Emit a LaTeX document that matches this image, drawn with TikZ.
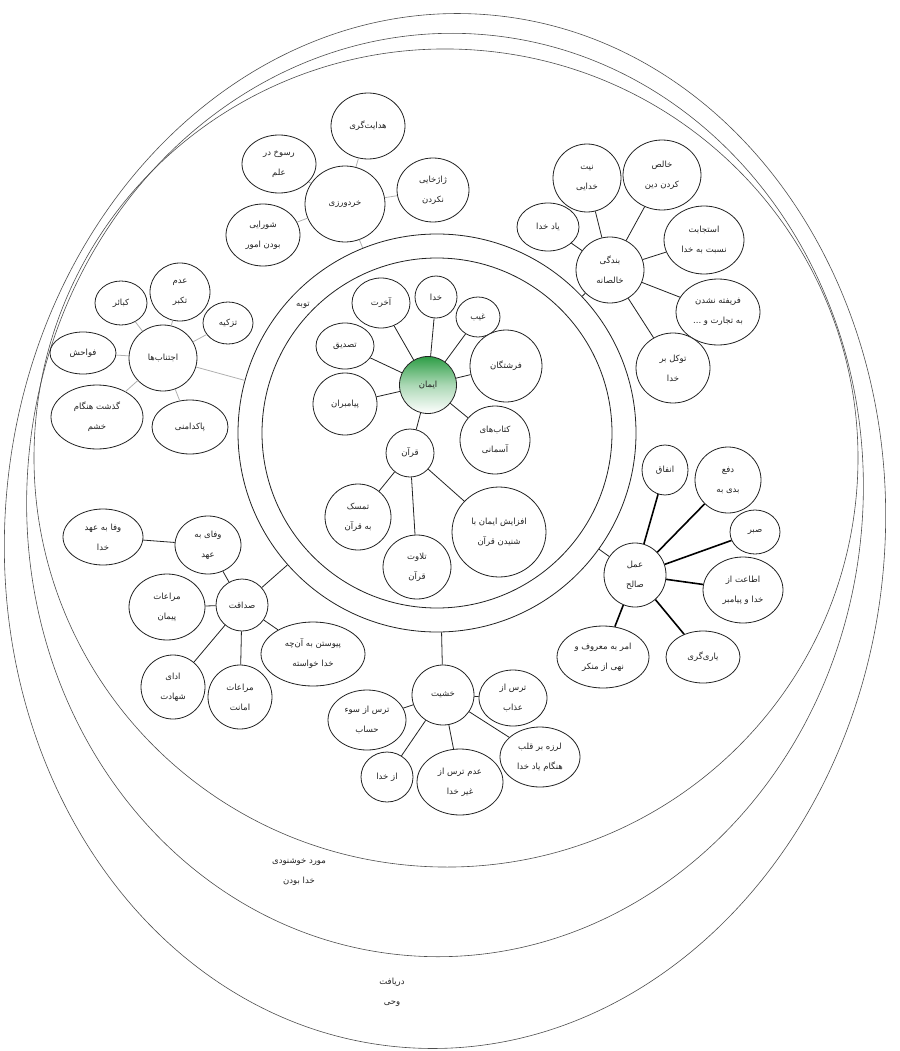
\documentclass[tikz,border=0pt]{standalone}
\usepackage{fontspec}
\newfontfamily\arabicfont[Script=Arabic]{DejaVu Sans}
\TeXXeTstate=1
\usepackage{xcolor}
\definecolor{imanGreen}{HTML}{2E9E46}
\definecolor{lineDark}{HTML}{222222}
\definecolor{softLink}{HTML}{B0B0B0}
\definecolor{outerLine}{HTML}{4D4D4D}
\usepackage{tikz}
\usetikzlibrary{
    shapes.geometric,
    positioning
}
\newcommand{\fatext}[1]{\beginR #1\endR}
\tikzset{
    % Base style for all bubbles
    bubble/.style 2 args={
        ellipse,
        draw=lineDark,
        line width=0.8pt,
        fill=white,
        inner sep=0pt,
        minimum width=#1pt,
        minimum height=#2pt,
        font=\arabicfont\fontsize{8.5}{20}\selectfont,
        align=center,
        text=lineDark,
    },
    % Center node - green fading to white
    core/.style={
        bubble={57}{57},
        top color=imanGreen,
        bottom color=white,
        middle color=imanGreen!40,
    },
    % Double ring round the center
    ring/.style={
        circle,
        draw=lineDark,
        line width=0.8pt,
        inner sep=0pt,
    },
    % Free labels in the bands
    band label/.style={
        font=\arabicfont\fontsize{8.5}{20}\selectfont,
        align=center,
        text=lineDark,
    },
    % Outer egg lines
    outer line/.style={
        draw=outerLine,
        line width=0.6pt,
    },
    % Connectors
    link/.style={
        draw=lineDark,
        line width=0.8pt,
    },
    link soft/.style={
        draw=softLink,
        line width=0.8pt,
    },
    link bold/.style={
        draw=black,
        line width=1.6pt,
    },
}

\begin{document}
\begin{tikzpicture}[x=1pt, y=-1pt]
    \useasboundingbox (0,0) rectangle (899,1051);
    \draw [outer line, rotate around={-5:(445,531)}] (445,531) ellipse [x radius=440pt, y radius=518pt];
    \draw [outer line, rotate around={-5:(445,495)}] (445,495) ellipse [x radius=418pt, y radius=462pt];
    \draw [outer line, rotate around={-5:(446,458)}] (446,458) ellipse [x radius=412pt, y radius=409pt];

    \node (ringout) [ring, minimum size=398pt] at (437,433) {};
    \node (ringin) [ring, minimum size=350pt] at (437,433) {};
    \node (tobe) [band label] at (303,305) {\fatext{توبه}};
    \node (khoshnudi) [band label] at (299,872) {\fatext{مورد خوشنودی}\\\fatext{خدا بودن}};
    \node (vahy) [band label] at (392,992) {\fatext{دریافت}\\\fatext{وحی}};

    \node (iman) [core] at (428,385) {\fatext{ایمان}};
    \node (khoda) [bubble={42}{42}] at (436,297) {\fatext{خدا}};
    \node (akherat) [bubble={58}{50}] at (381,303) {\fatext{آخرت}};
    \node (gheyb) [bubble={44}{40}] at (478,317) {\fatext{غیب}};
    \node (tasdiq) [bubble={58}{46}] at (345,346) {\fatext{تصدیق}};
    \node (fereshtegan) [bubble={72}{72}] at (506,366) {\fatext{فرشتگان}};
    \node (payambaran) [bubble={64}{62}] at (345,404) {\fatext{پیامبران}};
    \node (ketab) [bubble={70}{68}] at (495,440) {\fatext{کتاب‌های}\\\fatext{آسمانی}};
    \node (quran) [bubble={48}{48}] at (410,453) {\fatext{قرآن}};
    \node (tamassok) [bubble={66}{66}] at (358,517) {\fatext{تمسک}\\\fatext{به قرآن}};
    \node (telavat) [bubble={68}{64}] at (417,567) {\fatext{تلاوت}\\\fatext{قرآن}};
    \node (afzayesh) [bubble={94}{90}] at (499,532) {\fatext{افزایش ایمان با}\\\fatext{شنیدن قرآن}};

    \node (kherad) [bubble={80}{76}] at (345,204) {\fatext{خردورزی}};
    \node (hedayat) [bubble={74}{66}] at (368,126) {\fatext{هدایت‌گری}};
    \node (rosukh) [bubble={74}{58}] at (279,164) {\fatext{رسوخ در}\\\fatext{علم}};
    \node (zhazh) [bubble={72}{64}] at (433,190) {\fatext{ژاژخایی}\\\fatext{نکردن}};
    \node (shoura) [bubble={74}{62}] at (263,235) {\fatext{شورایی}\\\fatext{بودن امور}};

    \node (bandegi) [bubble={68}{66}] at (610,270) {\fatext{بندگی}\\\fatext{خالصانه}};
    \node (niyat) [bubble={68}{68}] at (587,178) {\fatext{نیت}\\\fatext{خدایی}};
    \node (khales) [bubble={78}{70}] at (662,175) {\fatext{خالص}\\\fatext{کردن دین}};
    \node (yad) [bubble={62}{48}] at (548,227) {\fatext{یاد خدا}};
    \node (estejabat) [bubble={80}{68}] at (704,240) {\fatext{استجابت}\\\fatext{نسبت به خدا}};
    \node (farifte) [bubble={84}{66}] at (718,312) {\fatext{فریفته نشدن}\\\fatext{به تجارت و ...}};
    \node (tavakkol) [bubble={74}{70}] at (673,368) {\fatext{توکل بر}\\\fatext{خدا}};

    \node (ejtenab) [bubble={68}{66}] at (163,358) {\fatext{اجتناب‌ها}};
    \node (kabaer) [bubble={52}{44}] at (121,303) {\fatext{کبائر}};
    \node (adamtakabor) [bubble={60}{58}] at (180,292) {\fatext{عدم}\\\fatext{تکبر}};
    \node (tazkie) [bubble={50}{42}] at (228,323) {\fatext{تزکیه}};
    \node (favahesh) [bubble={66}{42}] at (83,353) {\fatext{فواحش}};
    \node (gozasht) [bubble={92}{64}] at (97,417) {\fatext{گذشت هنگام}\\\fatext{خشم}};
    \node (pakdamani) [bubble={76}{54}] at (190,427) {\fatext{پاکدامنی}};

    \node (amal) [bubble={62}{64}] at (635,575) {\fatext{عمل}\\\fatext{صالح}};
    \node (enfagh) [bubble={46}{50}] at (665,470) {\fatext{انفاق}};
    \node (dafe) [bubble={66}{66}] at (728,480) {\fatext{دفع}\\\fatext{بدی به}};
    \node (sabr) [bubble={50}{44}] at (755,532) {\fatext{صبر}};
    \node (etaat) [bubble={80}{66}] at (743,590) {\fatext{اطاعت از}\\\fatext{خدا و پیامبر}};
    \node (yari) [bubble={74}{52}] at (703,657) {\fatext{یاری‌گری}};
    \node (amr) [bubble={92}{62}] at (603,657) {\fatext{امر به معروف و}\\\fatext{نهی از منکر}};

    \node (sedaghat) [bubble={52}{52}] at (242,605) {\fatext{صداقت}};
    \node (vafa) [bubble={66}{58}] at (208,545) {\fatext{وفای به}\\\fatext{عهد}};
    \node (vafakhoda) [bubble={80}{56}] at (103,537) {\fatext{وفا به عهد}\\\fatext{خدا}};
    \node (peyman) [bubble={76}{66}] at (167,607) {\fatext{مراعات}\\\fatext{پیمان}};
    \node (shahadat) [bubble={64}{64}] at (173,687) {\fatext{ادای}\\\fatext{شهادت}};
    \node (amanat) [bubble={64}{64}] at (240,697) {\fatext{مراعات}\\\fatext{امانت}};
    \node (peyvastan) [bubble={104}{64}] at (313,654) {\fatext{پیوستن به آن‌چه}\\\fatext{خدا خواسته}};

    \node (khashiyat) [bubble={62}{60}] at (443,695) {\fatext{خشیت}};
    \node (azab) [bubble={68}{56}] at (513,698) {\fatext{ترس از}\\\fatext{عذاب}};
    \node (hesab) [bubble={78}{60}] at (367,720) {\fatext{ترس از سوء}\\\fatext{حساب}};
    \node (azkhoda) [bubble={52}{50}] at (387,777) {\fatext{از خدا}};
    \node (gheyrkhoda) [bubble={86}{66}] at (460,782) {\fatext{عدم ترس از}\\\fatext{غیر خدا}};
    \node (larze) [bubble={80}{60}] at (540,757) {\fatext{لرزه بر قلب}\\\fatext{هنگام یاد خدا}};

    \draw [link] (iman) -- (khoda);
    \draw [link] (iman) -- (akherat);
    \draw [link] (iman) -- (gheyb);
    \draw [link] (iman) -- (tasdiq);
    \draw [link] (iman) -- (fereshtegan);
    \draw [link] (iman) -- (payambaran);
    \draw [link] (iman) -- (ketab);
    \draw [link] (iman) -- (quran);
    \draw [link] (quran) -- (tamassok);
    \draw [link] (quran) -- (telavat);
    \draw [link] (quran) -- (afzayesh);

    \draw [link soft] (kherad) -- (ringout);
    \draw [link soft] (kherad) -- (hedayat);
    \draw [link soft] (kherad) -- (rosukh);
    \draw [link soft] (kherad) -- (zhazh);
    \draw [link soft] (kherad) -- (shoura);

    \draw [link] (bandegi) -- (ringout);
    \draw [link] (bandegi) -- (niyat);
    \draw [link] (bandegi) -- (khales);
    \draw [link] (bandegi) -- (yad);
    \draw [link] (bandegi) -- (estejabat);
    \draw [link] (bandegi) -- (farifte);
    \draw [link] (bandegi) -- (tavakkol);

    \draw [link soft] (ejtenab) -- (ringout);
    \draw [link soft] (ejtenab) -- (kabaer);
    \draw [link soft] (ejtenab) -- (adamtakabor);
    \draw [link soft] (ejtenab) -- (tazkie);
    \draw [link soft] (ejtenab) -- (favahesh);
    \draw [link soft] (ejtenab) -- (gozasht);
    \draw [link soft] (ejtenab) -- (pakdamani);

    \draw [link] (amal) -- (ringout);
    \draw [link bold] (amal) -- (enfagh);
    \draw [link bold] (amal) -- (dafe);
    \draw [link bold] (amal) -- (sabr);
    \draw [link bold] (amal) -- (etaat);
    \draw [link bold] (amal) -- (yari);
    \draw [link bold] (amal) -- (amr);

    \draw [link] (sedaghat) -- (ringout);
    \draw [link] (sedaghat) -- (vafa);
    \draw [link] (vafa) -- (vafakhoda);
    \draw [link] (sedaghat) -- (peyman);
    \draw [link] (sedaghat) -- (shahadat);
    \draw [link] (sedaghat) -- (amanat);
    \draw [link] (sedaghat) -- (peyvastan);

    \draw [link] (khashiyat) -- (ringout);
    \draw [link] (khashiyat) -- (azab);
    \draw [link] (khashiyat) -- (hesab);
    \draw [link] (khashiyat) -- (azkhoda);
    \draw [link] (khashiyat) -- (gheyrkhoda);
    \draw [link] (khashiyat) -- (larze);
\end{tikzpicture}
\end{document}
